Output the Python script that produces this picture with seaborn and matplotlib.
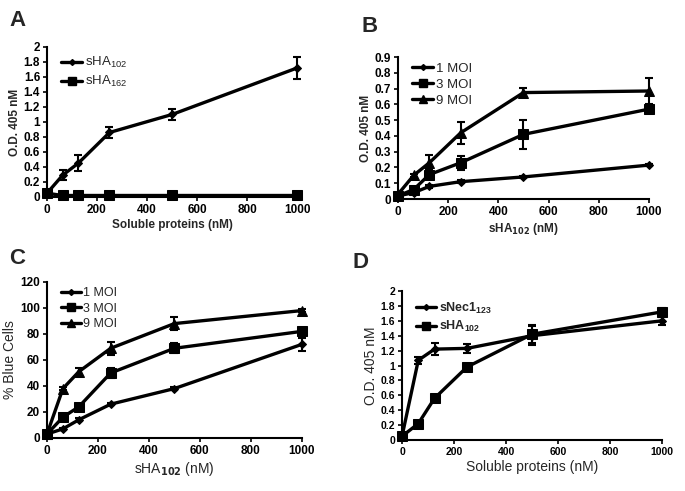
import numpy as np
import pandas as pd
import matplotlib
matplotlib.use("Agg")
import matplotlib.pyplot as plt
import seaborn as sns

sns.set_style("ticks")
plt.rcParams['font.family'] = ['Liberation Sans', 'DejaVu Sans']
plt.rcParams['mathtext.default'] = 'regular'

conc = [0, 62.5, 125, 250, 500, 1000]

# panel A
a_ha102 = [0.05, 0.29, 0.45, 0.86, 1.10, 1.72]
a_ha102_err = [0.02, 0.07, 0.11, 0.07, 0.07, 0.15]
a_ha162 = [0.05, 0.02, 0.02, 0.02, 0.02, 0.02]
a_ha162_err = [0.01, 0.01, 0.01, 0.01, 0.01, 0.01]

# panel B
b_moi1 = [0.02, 0.04, 0.08, 0.11, 0.14, 0.215]
b_moi1_err = [0.005, 0.005, 0.008, 0.008, 0.008, 0.008]
b_moi3 = [0.02, 0.06, 0.155, 0.23, 0.41, 0.57]
b_moi3_err = [0.01, 0.01, 0.03, 0.045, 0.09, 0.02]
b_moi9 = [0.03, 0.15, 0.23, 0.42, 0.675, 0.685]
b_moi9_err = [0.01, 0.01, 0.05, 0.07, 0.03, 0.085]

# panel C
c_moi1 = [3, 7, 14, 26, 38, 72]
c_moi1_err = [1, 1, 1, 1, 1, 5]
c_moi3 = [3, 16, 24, 50, 69, 82]
c_moi3_err = [1, 1, 1, 4, 4, 2]
c_moi9 = [3, 38, 51, 69, 88, 98]
c_moi9_err = [1, 1, 3, 5, 5, 1]

# panel D
d_nec1 = [0.05, 1.07, 1.22, 1.23, 1.40, 1.60]
d_nec1_err = [0.02, 0.05, 0.08, 0.06, 0.13, 0.05]
d_ha102 = [0.05, 0.22, 0.56, 0.98, 1.42, 1.72]
d_ha102_err = [0.02, 0.02, 0.02, 0.04, 0.12, 0.05]

marker_map = {'diamond': 'D', 'square': 's', 'triangle': '^'}
msize = {'diamond': 4, 'square': 6.5, 'triangle': 6.5}


def draw(ax, series, ylim, yticks, ylabel, xlabel, tick_size, label_size,
         label_bold, legend_bold, legend_size, legend_y):
    rows = []
    for name, vals, errs, mk in series:
        for x, v in zip(conc, vals):
            rows.append({'x': x, 'y': v, 'name': name})
    df = pd.DataFrame(rows)
    names = [s[0] for s in series]
    sns.lineplot(data=df, x='x', y='y', hue='name', style='name', hue_order=names,
                 style_order=names, palette=['black'] * len(names),
                 markers=[marker_map[s[3]] for s in series], dashes=False,
                 linewidth=2.4, markersize=6, markeredgecolor='black', ax=ax,
                 clip_on=False, legend=False)
    for line, s in zip(ax.lines, series):
        line.set_markersize(msize[s[3]])
    handles = []
    for name, vals, errs, mk in series:
        ax.errorbar(conc, vals, yerr=errs, fmt='none', ecolor='black',
                    elinewidth=1.5, capsize=3, capthick=1.5, clip_on=False)
        h, = ax.plot([], [], color='black', lw=2.4, marker=marker_map[mk],
                     markersize=msize[mk] - 1)
        handles.append(h)
    ax.legend(handles, names, loc='upper left', bbox_to_anchor=(0.035, legend_y),
              frameon=False, handlelength=1.6, handletextpad=0.2,
              labelspacing=0.3, borderaxespad=0,
              prop={'size': legend_size, 'weight': 'bold' if legend_bold else 'normal'})
    ax.set_xlim(0, 1000)
    ax.set_ylim(*ylim)
    ax.set_xticks([0, 200, 400, 600, 800, 1000])
    ax.set_yticks(yticks)
    ax.set_yticklabels(['%g' % t for t in yticks])
    for t in ax.get_xticklabels() + ax.get_yticklabels():
        t.set_fontsize(tick_size)
        t.set_fontweight('bold')
    lw = 'bold' if label_bold else 'normal'
    ax.set_xlabel(xlabel, fontsize=label_size, fontweight=lw, labelpad=2)
    ax.set_ylabel(ylabel, fontsize=label_size, fontweight=lw, labelpad=2)
    sns.despine(ax=ax)
    for sp in ax.spines.values():
        sp.set_linewidth(1.5)
        sp.set_color('black')
    ax.tick_params(width=1.2, length=3, pad=2, colors='black')


fig = plt.figure(figsize=(6.85, 4.91), dpi=100)
axA = fig.add_axes([0.0686, 0.5988, 0.365, 0.3055])
axB = fig.add_axes([0.581, 0.5947, 0.3664, 0.289])
axC = fig.add_axes([0.0686, 0.108, 0.372, 0.3177])
axD = fig.add_axes([0.5869, 0.1039, 0.3796, 0.3034])

draw(axA, [('sHA$_{102}$', a_ha102, a_ha102_err, 'diamond'),
           ('sHA$_{162}$', a_ha162, a_ha162_err, 'square')],
     (0, 2), np.round(np.arange(0, 2.01, 0.2), 1), 'O.D. 405 nM',
     'Soluble proteins (nM)', 8.5, 8.5, True, False, 9.5, 0.98)
draw(axB, [('1 MOI', b_moi1, b_moi1_err, 'diamond'),
           ('3 MOI', b_moi3, b_moi3_err, 'square'),
           ('9 MOI', b_moi9, b_moi9_err, 'triangle')],
     (0, 0.9), np.round(np.arange(0, 0.91, 0.1), 1), 'O.D. 405 nM',
     'sHA$_{\\mathbf{102}}$ (nM)', 8.5, 8.5, True, False, 9.5, 1.0)
draw(axC, [('1 MOI', c_moi1, c_moi1_err, 'diamond'),
           ('3 MOI', c_moi3, c_moi3_err, 'square'),
           ('9 MOI', c_moi9, c_moi9_err, 'triangle')],
     (0, 120), list(range(0, 121, 20)), '% Blue Cells',
     'sHA$_{\\mathbf{102}}$ (nM)', 8.5, 10, False, False, 9, 1.0)
draw(axD, [('sNec1$_{123}$', d_nec1, d_nec1_err, 'diamond'),
           ('sHA$_{102}$', d_ha102, d_ha102_err, 'square')],
     (0, 2), np.round(np.arange(0, 2.01, 0.2), 1), 'O.D. 405 nM',
     'Soluble proteins (nM)', 7.5, 10, False, True, 9, 0.97)

for letter, x, y in [('A', 18, 21), ('B', 370, 26), ('C', 17, 259), ('D', 361, 262)]:
    fig.text(x / 685, 1 - y / 491, letter, fontsize=16, fontweight='bold',
             ha='center', va='center')

fig.savefig('out.png', dpi=100)
